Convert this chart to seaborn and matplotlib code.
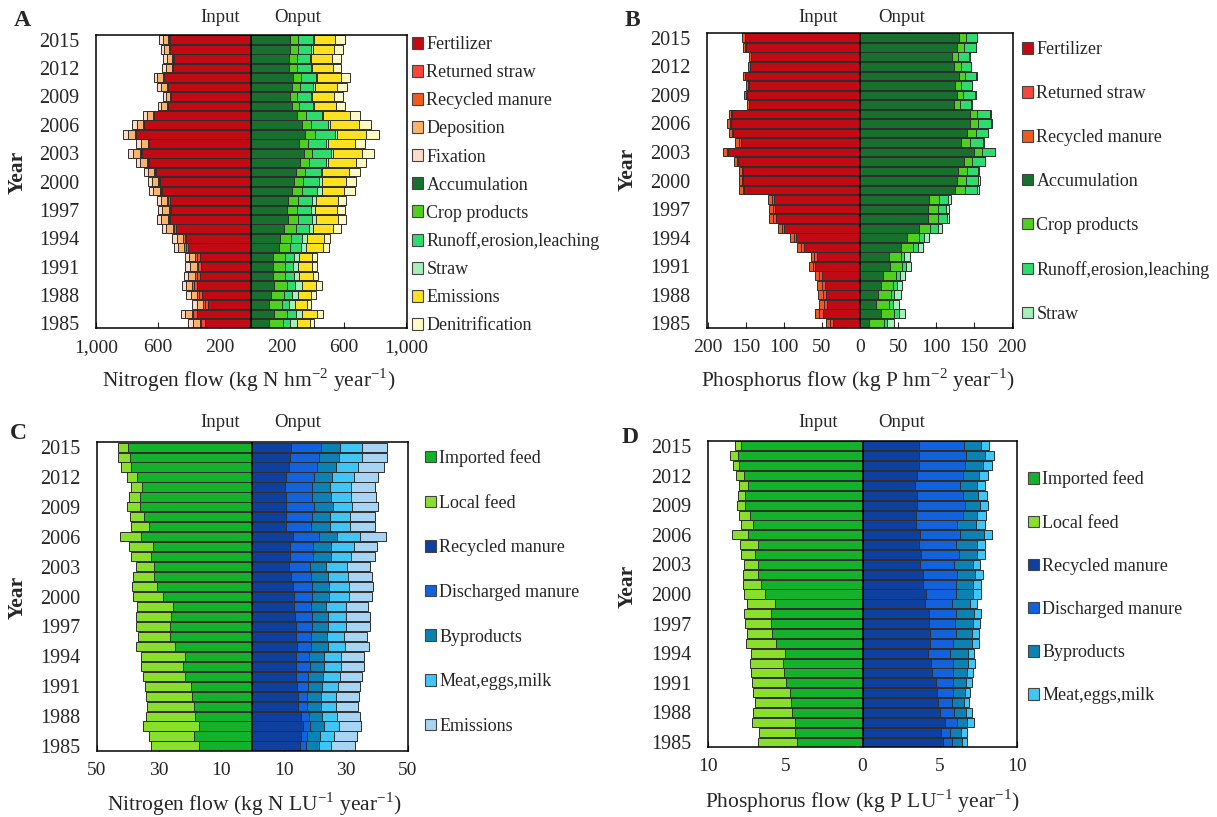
import numpy as np
import seaborn as sns
import matplotlib.pyplot as plt
from matplotlib.patches import Patch

sns.set_style('ticks')
plt.rcParams['font.family'] = ['Liberation Serif', 'DejaVu Serif']
plt.rcParams['mathtext.fontset'] = 'custom'
plt.rcParams['mathtext.rm'] = 'Liberation Serif'

years = [str(y) for y in range(1985, 2016)]
order = years[::-1]

# ---- A: nitrogen, cropland (kg N hm-2 year-1), 1985..2015 ----
fert_A = [298, 352, 276, 315, 352, 330, 320, 330, 407, 417, 487, 522, 515, 526, 574, 587,
          613, 661, 704, 657, 739, 689, 624, 533, 515, 537, 563, 504, 500, 520, 526]
rstraw_A = [22, 20, 22, 20, 18, 20, 20, 18, 14, 12, 8, 8, 8, 7, 7, 6,
            5, 5, 5, 5, 5, 4, 4, 3, 3, 3, 3, 3, 3, 3, 3]
rmanure_A = [12, 12, 12, 12, 12, 12, 12, 12, 12, 12, 8, 8, 8, 8, 8, 8,
             5, 5, 5, 5, 5, 5, 5, 5, 5, 5, 5, 5, 5, 5, 5]
depo_A = [45, 42, 42, 42, 38, 42, 43, 41, 40, 40, 43, 43, 43, 41, 43, 40,
          42, 44, 46, 46, 45, 40, 37, 37, 28, 38, 34, 37, 37, 32, 34]
fix_A = [30, 28, 28, 28, 25, 28, 29, 27, 27, 27, 28, 28, 28, 27, 29, 26,
         28, 29, 31, 31, 30, 27, 24, 25, 18, 26, 23, 25, 25, 21, 23]
acc_A = [113, 146, 113, 128, 150, 141, 141, 141, 178, 189, 215, 237, 233, 237, 265, 276,
         291, 315, 341, 309, 348, 330, 293, 265, 254, 265, 272, 243, 243, 250, 250]
crop_A = [93, 87, 83, 83, 83, 80, 76, 80, 76, 70, 72, 67, 65, 67, 65, 59,
          54, 59, 54, 59, 63, 54, 59, 43, 43, 48, 48, 50, 50, 52, 54]
runoff_A = [48, 59, 48, 54, 50, 54, 54, 54, 70, 72, 87, 87, 91, 87, 98, 100,
            104, 109, 120, 115, 133, 115, 104, 91, 91, 89, 98, 91, 87, 87, 96]
straw_A = [43, 39, 37, 37, 43, 33, 33, 33, 28, 28, 26, 26, 24, 26, 26, 20,
           11, 11, 11, 11, 11, 11, 9, 7, 7, 9, 7, 7, 7, 7, 7]
emis_A = [83, 93, 78, 83, 91, 91, 87, 87, 109, 109, 130, 141, 141, 141, 148, 159,
          174, 180, 189, 178, 189, 183, 170, 143, 137, 143, 152, 135, 133, 141, 135]
denit_A = [26, 37, 26, 33, 37, 33, 33, 33, 43, 43, 50, 54, 52, 54, 65, 65,
           65, 70, 78, 65, 80, 78, 65, 57, 59, 63, 59, 54, 57, 54, 61]

# ---- B: phosphorus, cropland (kg P hm-2 year-1) ----
fert_B = [35, 49, 43, 45, 46, 50, 59, 57, 74, 84, 100, 111, 112, 113, 152, 154,
          154, 160, 173, 157, 167, 170, 168, 146, 149, 146, 151, 144, 143, 150, 151]
rstraw_B = [4, 4.5, 4.5, 4, 4, 4, 3.3, 3, 3.5, 3, 3, 3.3, 2.5, 2.5, 2, 1.5,
            1.5, 1.5, 2, 2, 1, 1, 1, 0.5, 0.8, 0.8, 0.6, 0.7, 0.8, 0.8, 0.8]
rmanure_B = [6, 6, 6, 6, 6, 5.6, 5, 4.9, 5.7, 4.9, 4.9, 5.5, 4.5, 5, 4.6, 4.2,
             4.2, 4.2, 5.5, 5.5, 3.8, 3.8, 3.8, 1.7, 2.7, 2.7, 2.0, 2.3, 2.7, 2.7, 2.7]
acc_B = [12, 28, 21, 24, 27, 30, 40, 38, 54, 62, 78, 89, 89, 90, 125, 127,
         129, 136, 150, 133, 141, 145, 145, 124, 128, 125, 130, 124, 121, 128, 130]
crop_B = [18.9, 16.2, 17.5, 16.2, 16.7, 17.5, 14.5, 15.4, 15.4, 15.4, 14.5, 13.2, 13.2, 13.2, 13.2, 12.7,
          11, 11.4, 10.1, 11, 11, 10.1, 9.2, 7.9, 7.9, 7.9, 7.9, 8.3, 8.3, 8.8, 8.8]
runoff_B = [4.4, 6.6, 4.4, 4.8, 4.8, 5.3, 5.3, 4.8, 6.6, 7, 10.1, 11.4, 11, 12.3, 15.4, 15.8,
            14.9, 16.2, 16.7, 18, 15.8, 17.1, 16.2, 14.5, 15.4, 14, 14.9, 13.6, 14.5, 14.9, 14.5]
straw_B = [8.8, 7.9, 7.9, 8.3, 7, 5.7, 7.5, 7, 6.1, 6.1, 5.3, 3.9, 3.9, 3.9, 3.1, 2.6,
           1.8, 0.9, 0.9, 0.9, 0.9, 0.9, 1.3, 0.5, 0.5, 0.5, 0.5, 0.5, 0.5, 0.5, 1]

# ---- C: nitrogen, livestock (kg N LU-1 year-1) ----
imp_C = [17.3, 18.7, 17.3, 18.4, 18.9, 19.3, 19.8, 21.6, 22.4, 21.8, 25.0, 26.6, 26.6, 26.2, 25.4, 28.9,
         30.7, 31.7, 31.8, 32.6, 32.0, 36.0, 33.4, 34.8, 36.3, 36.3, 35.6, 37.1, 39.1, 39.5, 40.1]
loc_C = [15.4, 14.7, 17.9, 15.9, 15.0, 14.9, 14.9, 13.6, 13.5, 14.0, 12.3, 10.3, 10.9, 11.3, 11.8, 9.5,
         8.0, 6.7, 5.7, 6.4, 7.8, 6.7, 5.7, 4.6, 3.9, 3.3, 3.4, 3.2, 3.1, 3.9, 3.2]
rec_C = [15.4, 15.7, 16.3, 15.5, 14.7, 14.7, 14.4, 14.1, 14.1, 14.1, 14.4, 14.0, 14.0, 13.7, 13.3, 13.3,
         13.1, 12.5, 11.8, 12.2, 12.2, 13.1, 10.9, 10.9, 10.9, 10.9, 10.5, 10.9, 11.8, 12.2, 12.5]
dis_C = [1.7, 1.8, 2.1, 2.6, 2.9, 2.9, 3.4, 3.7, 4.3, 4.1, 4.5, 4.8, 5.0, 5.4, 5.4, 6.0,
         6.2, 6.4, 6.6, 7.3, 7.3, 8.2, 7.9, 8.2, 8.8, 8.3, 8.5, 8.8, 8.8, 9.2, 9.4]
byp_C = [4.2, 4.3, 4.6, 4.4, 4.4, 4.4, 4.6, 4.8, 4.6, 4.9, 5.4, 5.2, 5.2, 5.2, 5.1, 5.2,
         5.2, 5.5, 5.1, 5.7, 5.7, 6.0, 6.0, 5.9, 6.3, 6.2, 5.9, 6.0, 6.4, 6.4, 6.2]
meat_C = [4.1, 4.4, 4.8, 4.8, 4.8, 5.0, 5.0, 5.4, 5.4, 5.5, 5.6, 5.4, 5.9, 5.9, 6.2, 6.4,
          6.6, 6.4, 7.0, 6.4, 7.4, 7.3, 6.7, 6.5, 6.1, 6.3, 6.7, 7.0, 7.1, 7.3, 7.0]
emis_C = [7.5, 7.4, 7.2, 7.2, 7.2, 7.3, 7.3, 7.2, 7.6, 7.4, 7.6, 7.5, 7.6, 7.6, 7.3, 7.6,
          7.6, 7.7, 7.3, 7.7, 7.5, 8.2, 7.8, 7.9, 8.2, 8.0, 7.7, 7.7, 8.1, 8.2, 8.2]

# ---- D: phosphorus, livestock (kg P LU-1 year-1) ----
imp_D = [4.24, 4.39, 4.39, 4.57, 4.61, 4.72, 4.96, 5.11, 5.15, 5.04, 5.61, 5.89, 5.91, 5.91, 5.69, 6.32,
         6.58, 6.80, 6.80, 6.97, 6.80, 7.43, 7.12, 7.30, 7.58, 7.58, 7.43, 7.69, 7.97, 8.03, 7.84]
loc_D = [2.55, 2.34, 2.77, 2.49, 2.34, 2.34, 2.21, 2.10, 2.14, 2.19, 1.95, 1.62, 1.71, 1.75, 1.80, 1.34,
         1.13, 0.95, 0.87, 0.93, 1.15, 1.00, 0.76, 0.71, 0.56, 0.50, 0.54, 0.48, 0.41, 0.52, 0.39]
rec_D = [5.20, 5.07, 5.30, 5.02, 4.87, 4.81, 4.72, 4.52, 4.42, 4.22, 4.33, 4.37, 4.27, 4.27, 4.01, 4.07,
         3.90, 3.90, 3.72, 3.79, 3.62, 3.72, 3.44, 3.46, 3.55, 3.51, 3.36, 3.51, 3.62, 3.68, 3.62]
dis_D = [0.58, 0.56, 0.80, 0.87, 0.91, 1.02, 1.10, 1.30, 1.41, 1.41, 1.49, 1.65, 1.71, 1.78, 1.78, 1.95,
         2.12, 2.21, 2.21, 2.47, 2.45, 2.60, 2.66, 3.01, 3.05, 2.99, 2.92, 2.99, 2.99, 3.03, 2.94]
byp_D = [0.65, 0.74, 0.65, 0.82, 0.76, 0.78, 0.89, 0.93, 1.00, 1.19, 1.26, 1.06, 1.17, 1.15, 1.19, 1.13,
         1.13, 1.13, 1.21, 1.15, 1.34, 1.52, 1.23, 0.93, 0.97, 0.97, 1.13, 1.02, 1.17, 1.19, 1.10]
meat_D = [0.32, 0.39, 0.43, 0.35, 0.37, 0.37, 0.39, 0.39, 0.41, 0.41, 0.43, 0.43, 0.43, 0.48, 0.43, 0.54,
          0.48, 0.54, 0.48, 0.50, 0.54, 0.54, 0.56, 0.58, 0.54, 0.58, 0.50, 0.58, 0.56, 0.58, 0.54]

C_FERT, C_RSTRAW, C_RMAN = '#c10a14', '#f8463c', '#f05a1e'
C_DEPO, C_FIX = '#fdb36c', '#fcdcc8'
C_ACC, C_CROP, C_RUN, C_STRAW = '#17702e', '#4fcf1e', '#2ddc6c', '#a4f0b6'
C_EMIS, C_DEN = '#fde01e', '#fffac4'
C_IMP, C_LOC = '#14b22a', '#8ade2c'
C_REC, C_DIS, C_BYP, C_MEAT, C_EMLS = '#0e419f', '#1262de', '#0b82b3', '#3fc6f6', '#a8d4f4'
EDGE = '#2e2e2e'


def draw_side(ax, parts, colors, sign):
    cum = np.cumsum(np.array(parts, dtype=float), axis=0)
    for i in range(len(parts) - 1, -1, -1):
        sns.barplot(x=sign * cum[i], y=years, order=order, orient='h',
                    color=colors[i], saturation=1, width=0.92, errorbar=None,
                    edgecolor=EDGE, linewidth=0.7, ax=ax)


def style_axes(ax, xlim, ticks, ticklabels):
    ax.set_xlim(*xlim)
    ax.set_xticks(ticks)
    ax.set_xticklabels(ticklabels, fontsize=14)
    ax.set_yticks(range(0, 31, 3))
    ax.set_yticklabels(order[::3], fontsize=14.5)
    ax.tick_params(axis='x', direction='in', length=4, width=0.8, pad=8)
    ax.tick_params(axis='y', length=0, pad=12)
    ax.axvline(0, color='black', lw=1.2, zorder=5)
    ax.set_xlabel('')
    ax.set_ylabel('')
    for s in ax.spines.values():
        s.set_visible(True)
        s.set_color('black')
        s.set_linewidth(1.1)


fig = plt.figure(figsize=(12.17, 8.17), dpi=100)
axA = fig.add_axes([0.0789, 0.5985, 0.2555, 0.3586])
axB = fig.add_axes([0.5810, 0.5985, 0.2514, 0.3610])
axC = fig.add_axes([0.0797, 0.0808, 0.2555, 0.3780])
axD = fig.add_axes([0.5818, 0.0857, 0.2540, 0.3745])

# A
draw_side(axA, [fert_A, rstraw_A, rmanure_A, depo_A, fix_A],
          [C_FERT, C_RSTRAW, C_RMAN, C_DEPO, C_FIX], -1)
draw_side(axA, [acc_A, crop_A, runoff_A, straw_A, emis_A, denit_A],
          [C_ACC, C_CROP, C_RUN, C_STRAW, C_EMIS, C_DEN], 1)
style_axes(axA, (-1000, 1005), [-1000, -600, -200, 200, 600, 1000],
           ['1,000', '600', '200', '200', '600', '1,000'])

# B
draw_side(axB, [fert_B, rstraw_B, rmanure_B], [C_FERT, C_RSTRAW, C_RMAN], -1)
draw_side(axB, [acc_B, crop_B, runoff_B, straw_B], [C_ACC, C_CROP, C_RUN, C_STRAW], 1)
style_axes(axB, (-201, 201), [-200, -150, -100, -50, 0, 50, 100, 150, 200],
           ['200', '150', '100', '50', '0', '50', '100', '150', '200'])

# C
draw_side(axC, [imp_C, loc_C], [C_IMP, C_LOC], -1)
draw_side(axC, [rec_C, dis_C, byp_C, meat_C, emis_C],
          [C_REC, C_DIS, C_BYP, C_MEAT, C_EMLS], 1)
style_axes(axC, (-50, 50), [-50, -30, -10, 10, 30, 50],
           ['50', '30', '10', '10', '30', '50'])

# D
draw_side(axD, [imp_D, loc_D], [C_IMP, C_LOC], -1)
draw_side(axD, [rec_D, dis_D, byp_D, meat_D], [C_REC, C_DIS, C_BYP, C_MEAT], 1)
style_axes(axD, (-10, 10), [-10, -5, 0, 5, 10], ['10', '5', '0', '5', '10'])

# legends
def add_legend(labels, colors, x, y, spacing):
    handles = [Patch(facecolor=c, edgecolor='#444444', linewidth=0.8) for c in colors]
    fig.legend(handles, labels, loc='center left', bbox_to_anchor=(x, y),
               frameon=False, fontsize=13, handlelength=0.6, handleheight=0.6,
               handletextpad=0.2, labelspacing=spacing, borderpad=0, borderaxespad=0)

add_legend(['Fertilizer', 'Returned straw', 'Recycled manure', 'Deposition', 'Fixation',
            'Accumulation', 'Crop products', 'Runoff,erosion,leaching', 'Straw',
            'Emissions', 'Denitrification'],
           [C_FERT, C_RSTRAW, C_RMAN, C_DEPO, C_FIX, C_ACC, C_CROP, C_RUN, C_STRAW,
            C_EMIS, C_DEN], 0.3385, 0.7730, 0.61)
add_legend(['Fertilizer', 'Returned straw', 'Recycled manure', 'Accumulation',
            'Crop products', 'Runoff,erosion,leaching', 'Straw'],
           [C_FERT, C_RSTRAW, C_RMAN, C_ACC, C_CROP, C_RUN, C_STRAW], 0.8398, 0.7772, 1.49)
add_legend(['Imported feed', 'Local feed', 'Recycled manure', 'Discharged manure',
            'Byproducts', 'Meat,eggs,milk', 'Emissions'],
           [C_IMP, C_LOC, C_REC, C_DIS, C_BYP, C_MEAT, C_EMLS], 0.349, 0.2754, 1.53)
add_legend(['Imported feed', 'Local feed', 'Recycled manure', 'Discharged manure',
            'Byproducts', 'Meat,eggs,milk'],
           [C_IMP, C_LOC, C_REC, C_DIS, C_BYP, C_MEAT], 0.8447, 0.2809, 1.45)

# panel letters, Input/Onput, axis titles
for letter, x, y in [('A', 0.011, 0.9755), ('B', 0.5136, 0.9755),
                     ('C', 0.008, 0.470), ('D', 0.511, 0.4639)]:
    fig.text(x, y, letter, fontsize=17, fontweight='bold', va='center', ha='left')

for xi, xo, y in [(0.1808, 0.2449, 0.978), (0.672, 0.741, 0.978),
                  (0.1808, 0.2449, 0.4823), (0.672, 0.741, 0.4823)]:
    fig.text(xi, y, 'Input', fontsize=13.5, ha='center', va='center')
    fig.text(xo, y, 'Onput', fontsize=13.5, ha='center', va='center')

for x, y in [(0.0148, 0.7895), (0.516, 0.793), (0.0148, 0.2693), (0.516, 0.2827)]:
    fig.text(x, y, 'Year', fontsize=15.5, fontweight='bold', rotation=90,
             ha='center', va='center')

fig.text(0.2046, 0.5349, r'Nitrogen flow (kg N hm$^{-2}$ year$^{-1}$)', fontsize=15.5,
         ha='center', va='center')
fig.text(0.705, 0.5349, r'Phosphorus flow (kg P hm$^{-2}$ year$^{-1}$)', fontsize=15.5,
         ha='center', va='center')
fig.text(0.2087, 0.0159, r'Nitrogen flow (kg N LU$^{-1}$ year$^{-1}$)', fontsize=15.5,
         ha='center', va='center')
fig.text(0.7083, 0.0196, r'Phosphorus flow (kg P LU$^{-1}$ year$^{-1}$)', fontsize=15.5,
         ha='center', va='center')

fig.savefig('out.png', dpi=100)
